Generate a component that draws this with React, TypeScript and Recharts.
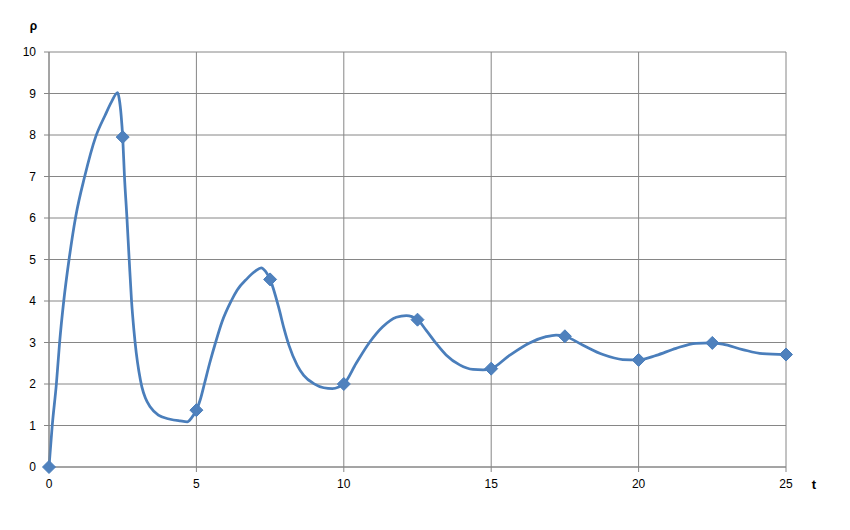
import React from 'react';
import { LineChart, Line, XAxis, YAxis, CartesianGrid } from 'recharts';

// Dense trace of the smooth curve
const curveTimes = [
  0, 0.11, 0.25, 0.36, 0.5, 0.68, 0.91, 1.21, 1.58, 1.9, 2.12, 2.33, 2.38, 2.45, 2.5, 2.56, 2.64, 2.72, 2.8,
  2.88, 2.96, 3.05, 3.15, 3.27, 3.43, 3.71, 4.11, 4.45, 4.69, 4.84, 5.0, 5.13, 5.27, 5.45, 5.65, 5.87,
  6.18, 6.38, 6.72, 7.0, 7.2, 7.34, 7.5, 7.8, 7.97, 8.14, 8.42, 8.64, 8.98, 9.32, 9.61, 9.83, 10.0, 10.42,
  10.87, 11.32, 11.78, 12.12, 12.5, 12.79, 13.13, 13.47, 13.93, 14.38, 14.72, 15.0, 15.62, 16.3, 16.86,
  17.2, 17.5, 18.1, 18.79, 19.46, 20.0, 20.6, 21.27, 21.95, 22.46, 22.85, 23.53, 24.2, 25.0,
];
const curveValues = [
  0, 1.0, 2.0, 3.0, 4.0, 5.0, 6.05, 7.0, 7.95, 8.47, 8.8, 9.02, 8.88, 8.45, 7.95, 7.0, 6.05, 5.0, 4.0,
  3.3, 2.75, 2.3, 1.93, 1.66, 1.45, 1.25, 1.15, 1.11, 1.09, 1.19, 1.37, 1.62, 2.0, 2.5, 3.0, 3.5,
  4.0, 4.26, 4.54, 4.72, 4.8, 4.72, 4.52, 3.82, 3.34, 2.93, 2.45, 2.21, 2.01, 1.91, 1.89, 1.93, 2.0, 2.5,
  3.0, 3.38, 3.61, 3.65, 3.55, 3.3, 2.98, 2.7, 2.46, 2.35, 2.34, 2.37, 2.69, 2.99, 3.14,
  3.18, 3.15, 2.94, 2.71, 2.59, 2.58, 2.69, 2.86, 2.98, 2.99, 2.96, 2.83, 2.73, 2.71,
];

// Sampled points shown with diamond markers
const markerTimes = [0, 2.5, 5, 7.5, 10, 12.5, 15, 17.5, 20, 22.5, 25];
const markerValues = [0, 7.95, 1.37, 4.52, 2.0, 3.55, 2.37, 3.15, 2.58, 2.99, 2.71];

const xTicks = [0, 5, 10, 15, 20, 25];
const yTicks = [0, 1, 2, 3, 4, 5, 6, 7, 8, 9, 10];

const curveData = curveTimes.map((t, i) => ({ t, rho: curveValues[i] }));
const markerData = markerTimes.map((t, i) => ({ t, rho: markerValues[i] }));

const FONT = '"Liberation Sans", Arial, sans-serif';
const GRID = '#868686';
const BLUE = '#4A7EBB';

const Diamond = (props: any) => {
  const { cx, cy, index } = props;
  if (cx == null || cy == null) return <g key={`d-${index}`} />;
  const r = 6.5;
  return (
    <path
      key={`d-${index}`}
      d={`M${cx},${cy - r}L${cx + r},${cy}L${cx},${cy + r}L${cx - r},${cy}Z`}
      fill="#4F81BD"
      stroke={BLUE}
      strokeWidth={1}
    />
  );
};

export default function App() {
  return (
    <div style={{ width: 834, height: 514 }}>
      <LineChart width={834} height={514} margin={{ top: 44, right: 56, bottom: 0, left: 0 }}>
        <CartesianGrid stroke={GRID} strokeWidth={1} />
        <XAxis
          type="number"
          dataKey="t"
          domain={[0, 25]}
          ticks={xTicks}
          height={55}
          stroke={GRID}
          tickSize={5}
          tickMargin={7}
          tick={{ fill: '#000', fontSize: 12, fontFamily: FONT }}
          label={(p: any) => {
            const vb = p.viewBox || { x: 41, y: 459, width: 737 };
            return (
              <text
                x={vb.x + vb.width + 28}
                y={vb.y + 17}
                textAnchor="middle"
                dominantBaseline="central"
                fontFamily={FONT}
                fontWeight="bold"
                fontSize={13}
                fill="#000"
              >
                t
              </text>
            );
          }}
        />
        <YAxis
          type="number"
          domain={[0, 10]}
          ticks={yTicks}
          width={41}
          stroke={GRID}
          tickSize={5}
          tickMargin={8}
          tick={{ fill: '#000', fontSize: 12, fontFamily: FONT }}
          label={(p: any) => {
            const vb = p.viewBox || { x: 0, y: 44, width: 41 };
            return (
              <text
                x={vb.x + vb.width - 15.5}
                y={vb.y - 26}
                textAnchor="middle"
                dominantBaseline="central"
                fontFamily={FONT}
                fontWeight="bold"
                fontSize={12}
                fill="#000"
              >
                ρ
              </text>
            );
          }}
        />
        <Line
          data={curveData}
          dataKey="rho"
          type="monotone"
          stroke={BLUE}
          strokeWidth={2.75}
          dot={false}
          activeDot={false}
          isAnimationActive={false}
        />
        <Line
          data={markerData}
          dataKey="rho"
          stroke="none"
          dot={Diamond}
          activeDot={false}
          isAnimationActive={false}
        />
      </LineChart>
    </div>
  );
}
